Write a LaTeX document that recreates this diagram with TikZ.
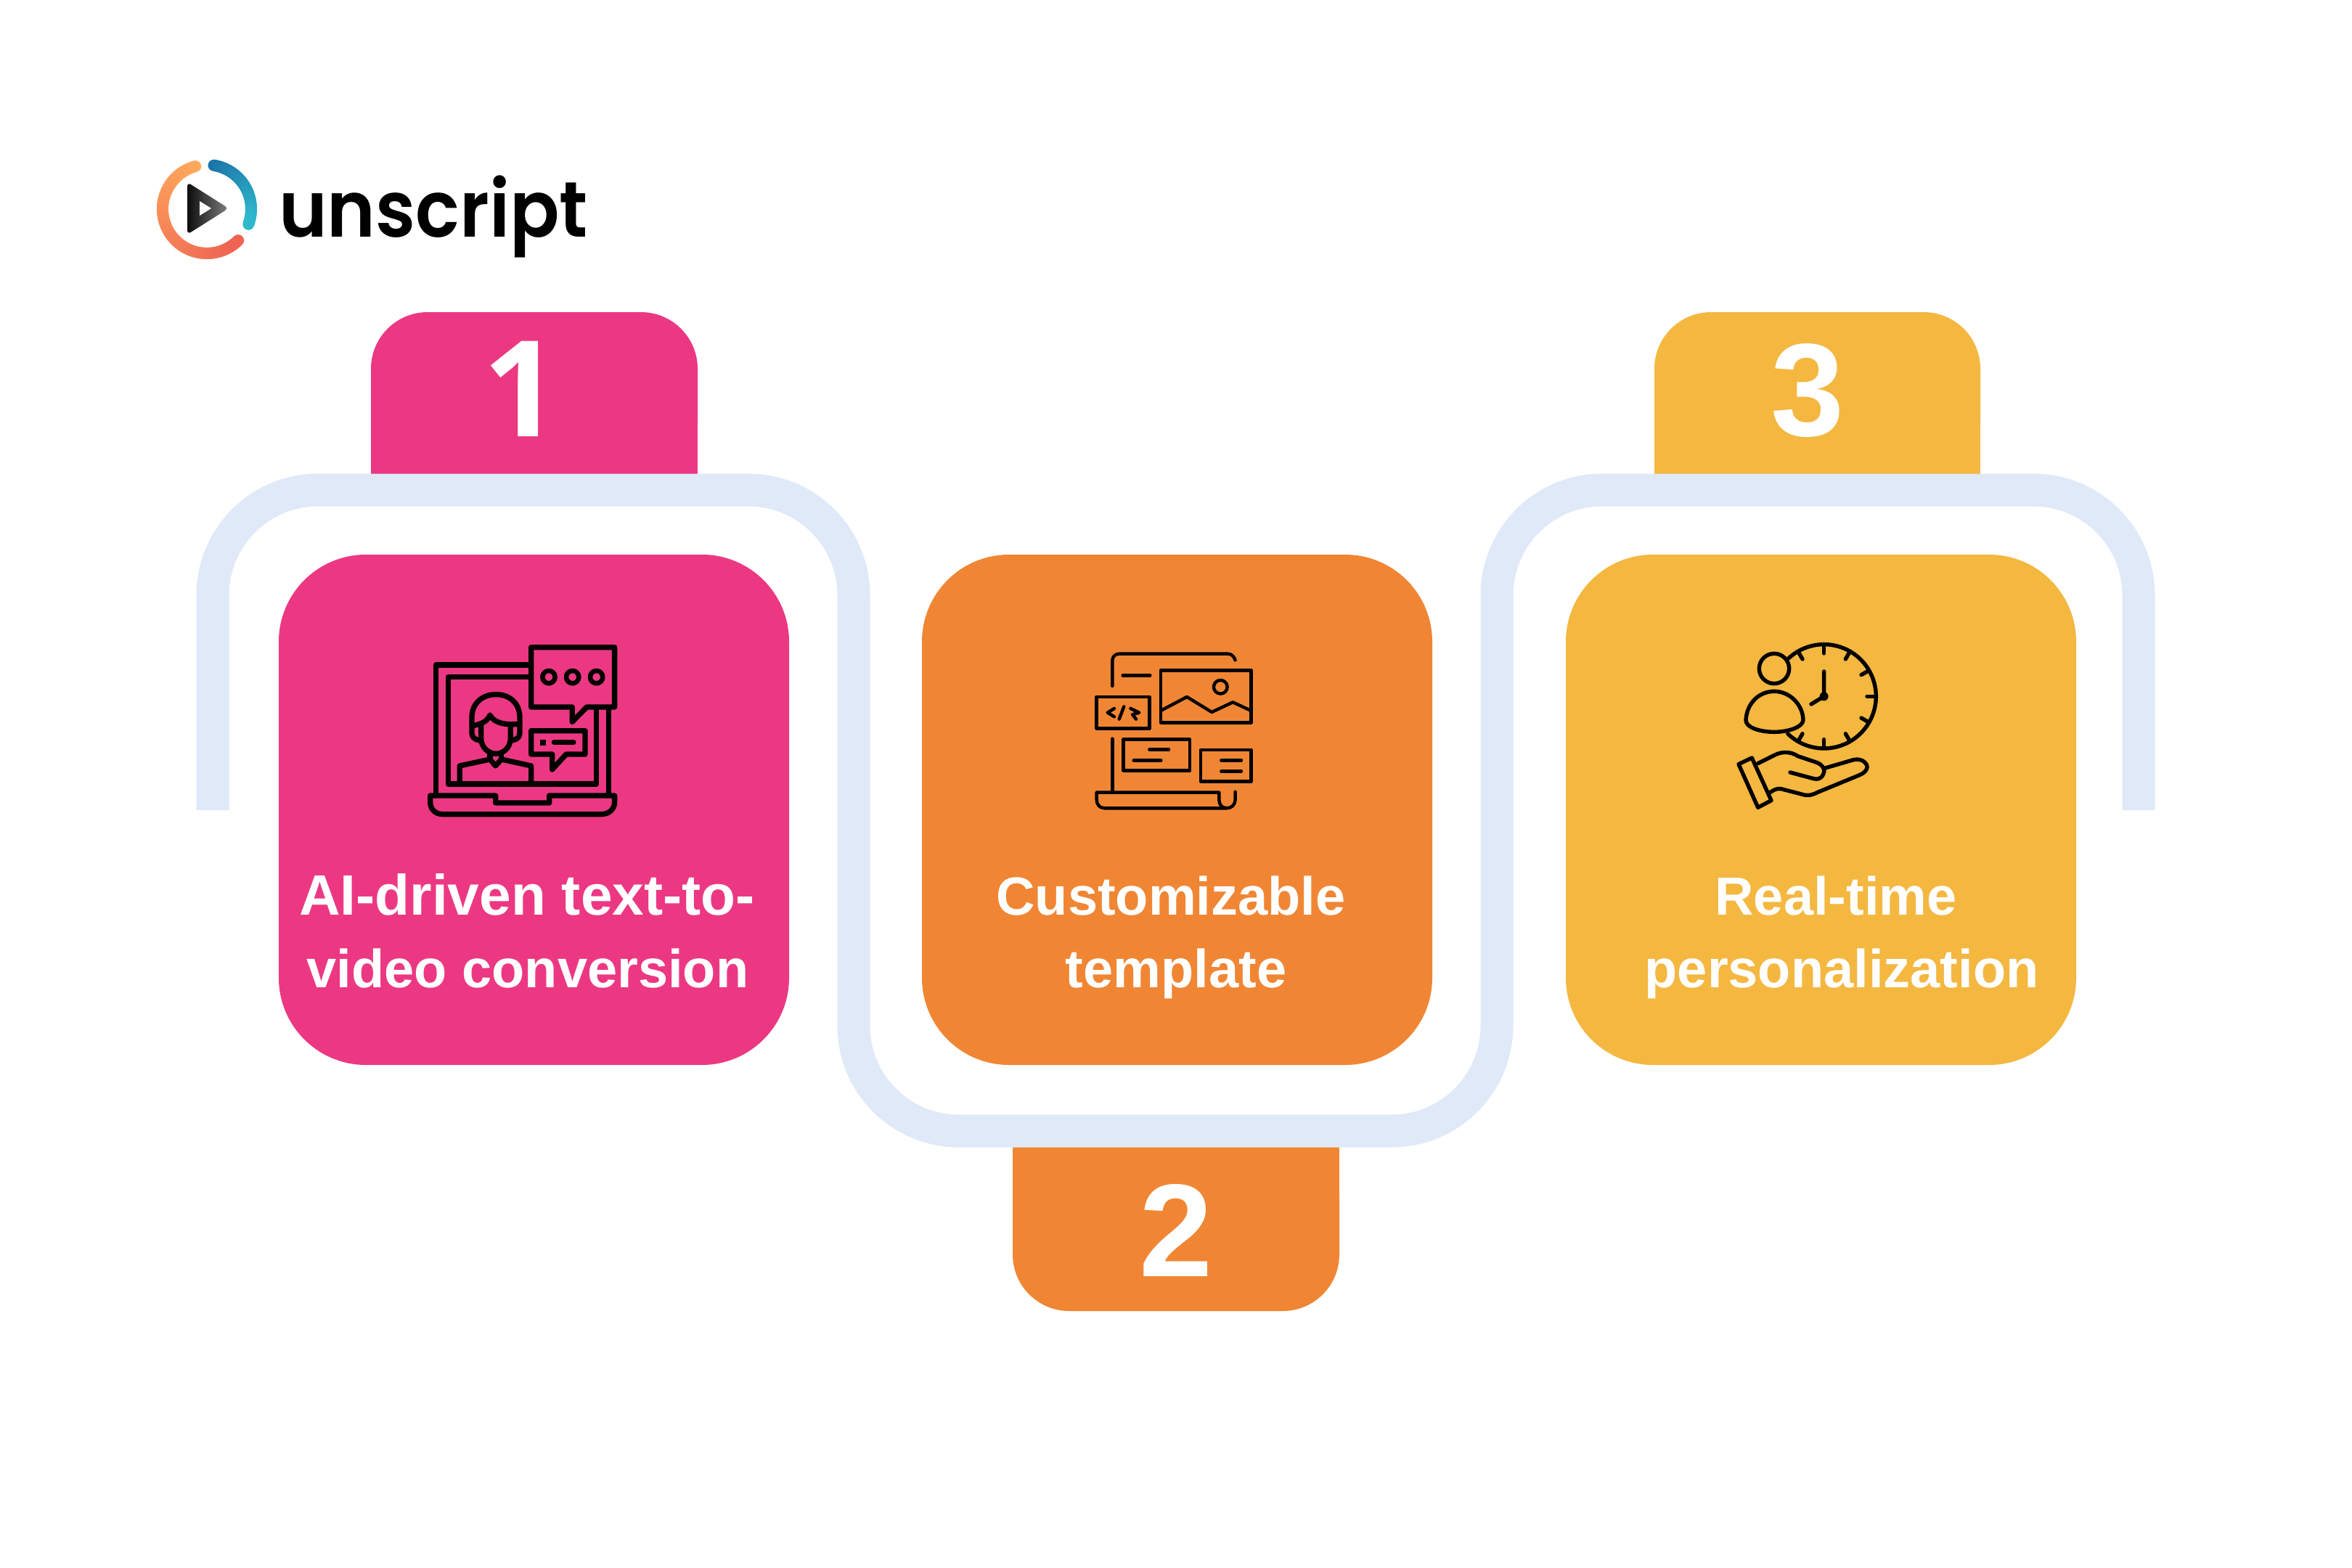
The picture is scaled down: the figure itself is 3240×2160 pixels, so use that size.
\documentclass[tikz,border=0pt]{standalone}
\usepackage{fontspec}
\setmainfont{Liberation Sans}
\newfontfamily\logofont{Poppins SemiBold}
\newfontfamily\onefont{Open Sans}
\definecolor{cpink}{HTML}{EC3882}
\definecolor{corange}{HTML}{F08634}
\definecolor{cyellow}{HTML}{F4B740}
\definecolor{cband}{HTML}{E0E9F8}
\definecolor{ringA}{HTML}{FFAA5C}
\definecolor{ringB}{HTML}{EE6352}
\definecolor{ringC}{HTML}{1B74A8}
\definecolor{ringD}{HTML}{2FB8CC}
\tikzset{
  card/.style={rounded corners=120pt},
  tabshape/.style={rounded corners=78pt},
  label/.style={text=white,font=\fontsize{74}{74}\selectfont\bfseries,anchor=base,inner sep=0pt},
  digit/.style={text=white,font=\fontsize{182}{182}\selectfont\bfseries,anchor=base,inner sep=0pt},
  icon/.style={draw=black,line cap=round,line join=round},
}
\begin{document}
\begin{tikzpicture}[x=1pt,y=-1pt]
\useasboundingbox (0,0) rectangle (3240,2160);
\fill[white] (0,0) rectangle (3240,2160);
% tabs
\fill[cpink,tabshape] (511,430) rectangle (961,660);
\fill[cpink] (511,540) rectangle (961,660);
\fill[cyellow,tabshape] (2279,430) rectangle (2728,660);
\fill[cyellow] (2279,540) rectangle (2728,660);
\fill[corange,tabshape] (1395,1570) rectangle (1845,1806);
\fill[corange] (1395,1570) rectangle (1845,1700);
% band
\draw[cband,line width=45pt,rounded corners=145pt] (293,1116) -- (293,675) -- (1176,675) -- (1176,1558) -- (2062,1558) -- (2062,675) -- (2946,675) -- (2946,1116);
% cards
\fill[cpink,card] (384,764) rectangle (1087,1467);
\fill[corange,card] (1270,764) rectangle (1973,1467);
\fill[cyellow,card] (2157,764) rectangle (2860,1467);
% digits
\node[digit,font=\onefont\fontsize{184}{184}\selectfont\bfseries] (d1) at (718,601) {1};
\node[digit] (d2) at (1620,1758) {2};
\node[digit] (d3) at (2490,600) {3};
% labels
\node[label,font=\fontsize{78.5}{78.5}\selectfont\bfseries] (l1a) at (726,1260) {AI-driven text-to-};
\node[label] (l1b) at (727,1360) {video conversion};
\node[label] (l2a) at (1613,1260) {Customizable};
\node[label] (l2b) at (1620,1360) {template};
\node[label] (l3a) at (2529,1260) {Real-time};
\node[label] (l3b) at (2537,1360) {personalization};
% logo
\foreach \i in {0,...,59}{
  \pgfmathsetmacro\aa{105+\i*210/60}
  \pgfmathsetmacro\ab{105+(\i+1)*210/60}
  \pgfmathsetmacro\p{100-\i*100/59}
  \draw[color=ringA!\p!ringB,line width=16pt,line cap=round] ({285+61*cos(\aa)},{288-61*sin(\aa)}) -- ({285+61*cos(\ab)},{288-61*sin(\ab)});
}
\foreach \i in {0,...,29}{
  \pgfmathsetmacro\aa{81-\i*101/30}
  \pgfmathsetmacro\ab{81-(\i+1)*101/30}
  \pgfmathsetmacro\p{100-\i*100/29}
  \draw[color=ringC!\p!ringD,line width=16pt,line cap=round] ({285+61*cos(\aa)},{288-61*sin(\aa)}) -- ({285+61*cos(\ab)},{288-61*sin(\ab)});
}
\shade[left color=black!95,right color=black!50,rounded corners=6pt] (258,251) -- (315,287) -- (258,323) -- cycle;
\fill[white] (275,277) -- (291,287) -- (275,297) -- cycle;
\node[anchor=base west,inner sep=0pt,xscale=0.935,transform shape,font=\logofont\fontsize{108}{108}\selectfont] (logo) at (384,326) {unscript};
% icon 1
\begin{scope}[shift={(560,860)},x=0.3333pt,y=-0.3333pt,icon,line width=7.3pt]
\draw (122,700) -- (122,168) -- (505,168);
\draw (835,350) -- (835,700);
\draw (505,218) -- (172,218) -- (172,660) -- (785,660) -- (785,350);
\draw (515,95) -- (860,95) -- (860,342) -- (745,342) -- (685,403) -- (685,342) -- (515,342) -- cycle;
\foreach \cx in {588,686,785}{\draw[line width=6.5pt] (\cx,218) circle[radius=26];}
\draw (98,708) -- (368,708) -- (368,738) -- (590,738) -- (590,708) -- (860,708) -- (860,735) .. controls (860,765) and (835,785) .. (805,785) -- (150,785) .. controls (120,785) and (98,765) .. (98,735) -- cycle;
\draw (515,440) -- (738,440) -- (738,537) -- (660,537) -- (602,600) -- (602,537) -- (515,537) -- cycle;
\fill[black] (552,476) rectangle (577,500);
\draw (610,488) -- (690,488);
\draw (300,480) .. controls (280,475) and (270,465) .. (270,450) -- (270,385) .. controls (270,325) and (315,290) .. (370,290) .. controls (425,290) and (468,325) .. (468,385) -- (468,450) .. controls (468,465) and (458,475) .. (438,480);
\draw (308,410) -- (308,470) .. controls (308,510) and (340,535) .. (370,535) .. controls (400,535) and (430,510) .. (430,470) -- (430,415);
\draw (275,420) -- (308,410) .. controls (325,403) and (340,390) .. (345,375) .. controls (360,405) and (400,418) .. (468,412);
\draw (220,650) -- (220,585) -- (345,558) -- (368,585) -- (392,558) -- (515,585) -- (515,650);
\draw (345,530) -- (345,558);
\draw (392,530) -- (392,558);
\end{scope}
% icon 2
\begin{scope}[shift={(1480,870)},x=0.3333pt,y=-0.3333pt,icon,line width=4.4pt]
\draw (157,225) -- (157,120) .. controls (157,103) and (170,92) .. (185,92) -- (635,92) .. controls (648,92) and (660,102) .. (665,118);
\draw (200,181) -- (313,181);
\draw (357,160) -- (730,160) -- (730,377) -- (357,377) -- cycle;
\draw (357,327) -- (465,270) -- (568,333) -- (655,292) -- (730,327);
\draw (604,229) circle[radius=28];
\draw (91,270) -- (311,270) -- (311,400) -- (91,400) -- cycle;
\draw (165,318) -- (137,335) -- (165,352);
\draw (205,310) -- (185,362);
\draw (232,318) -- (268,335) -- (240,343) -- (255,362);
\draw (203,445) -- (477,445) -- (477,575) -- (203,575) -- cycle;
\draw (310,488) -- (390,488);
\draw (245,532) -- (358,532);
\draw (522,489) -- (730,489) -- (730,620) -- (522,620) -- cycle;
\draw (607,532) -- (690,532);
\draw (607,577) -- (690,577);
\draw (157,443) -- (157,660);
\draw (630,730) -- (125,730) .. controls (105,730) and (92,715) .. (92,695) -- (92,665) -- (598,665) -- (598,695) .. controls (598,715) and (610,730) .. (630,730) .. controls (650,730) and (665,715) .. (665,695) -- (665,662);
\end{scope}
% icon 3
\begin{scope}[shift={(2370,860)},x=0.3333pt,y=-0.3333pt,icon,line width=5.4pt]
\draw plot[domain=-134:133,samples=90] ({428+215*cos(\x)},{298-215*sin(\x)});
\foreach \a in {120,90,60,30,0,-30,-60,-90,-120}{
  \draw ({428+210*cos(\a)},{298-210*sin(\a)}) -- ({428+178*cos(\a)},{298-178*sin(\a)});
}
\draw (428,195) -- (428,298) -- (375,330);
\fill (428,298) circle[radius=18];
\draw (222,183) circle[radius=62];
\draw (105,395) .. controls (110,320) and (165,277) .. (222,277) .. controls (285,277) and (340,330) .. (342,395) .. controls (342,425) and (280,445) .. (222,445) .. controls (160,445) and (103,425) .. (105,395) -- cycle;
\draw (75,578) -- (130,552) -- (210,728) -- (155,757) -- cycle;
\draw (155,575) -- (225,540) .. controls (255,525) and (290,525) .. (320,545) -- (395,570) .. controls (425,580) and (435,605) .. (425,620) .. controls (415,640) and (400,642) .. (385,638) -- (288,612);
\draw (430,595) -- (550,560) .. controls (590,550) and (620,585) .. (600,605) .. controls (590,618) and (580,620) .. (570,625) -- (400,695) .. controls (375,708) and (355,710) .. (335,702) -- (250,680) .. controls (230,678) and (220,685) .. (205,695);
\end{scope}
\end{tikzpicture}
\end{document}
